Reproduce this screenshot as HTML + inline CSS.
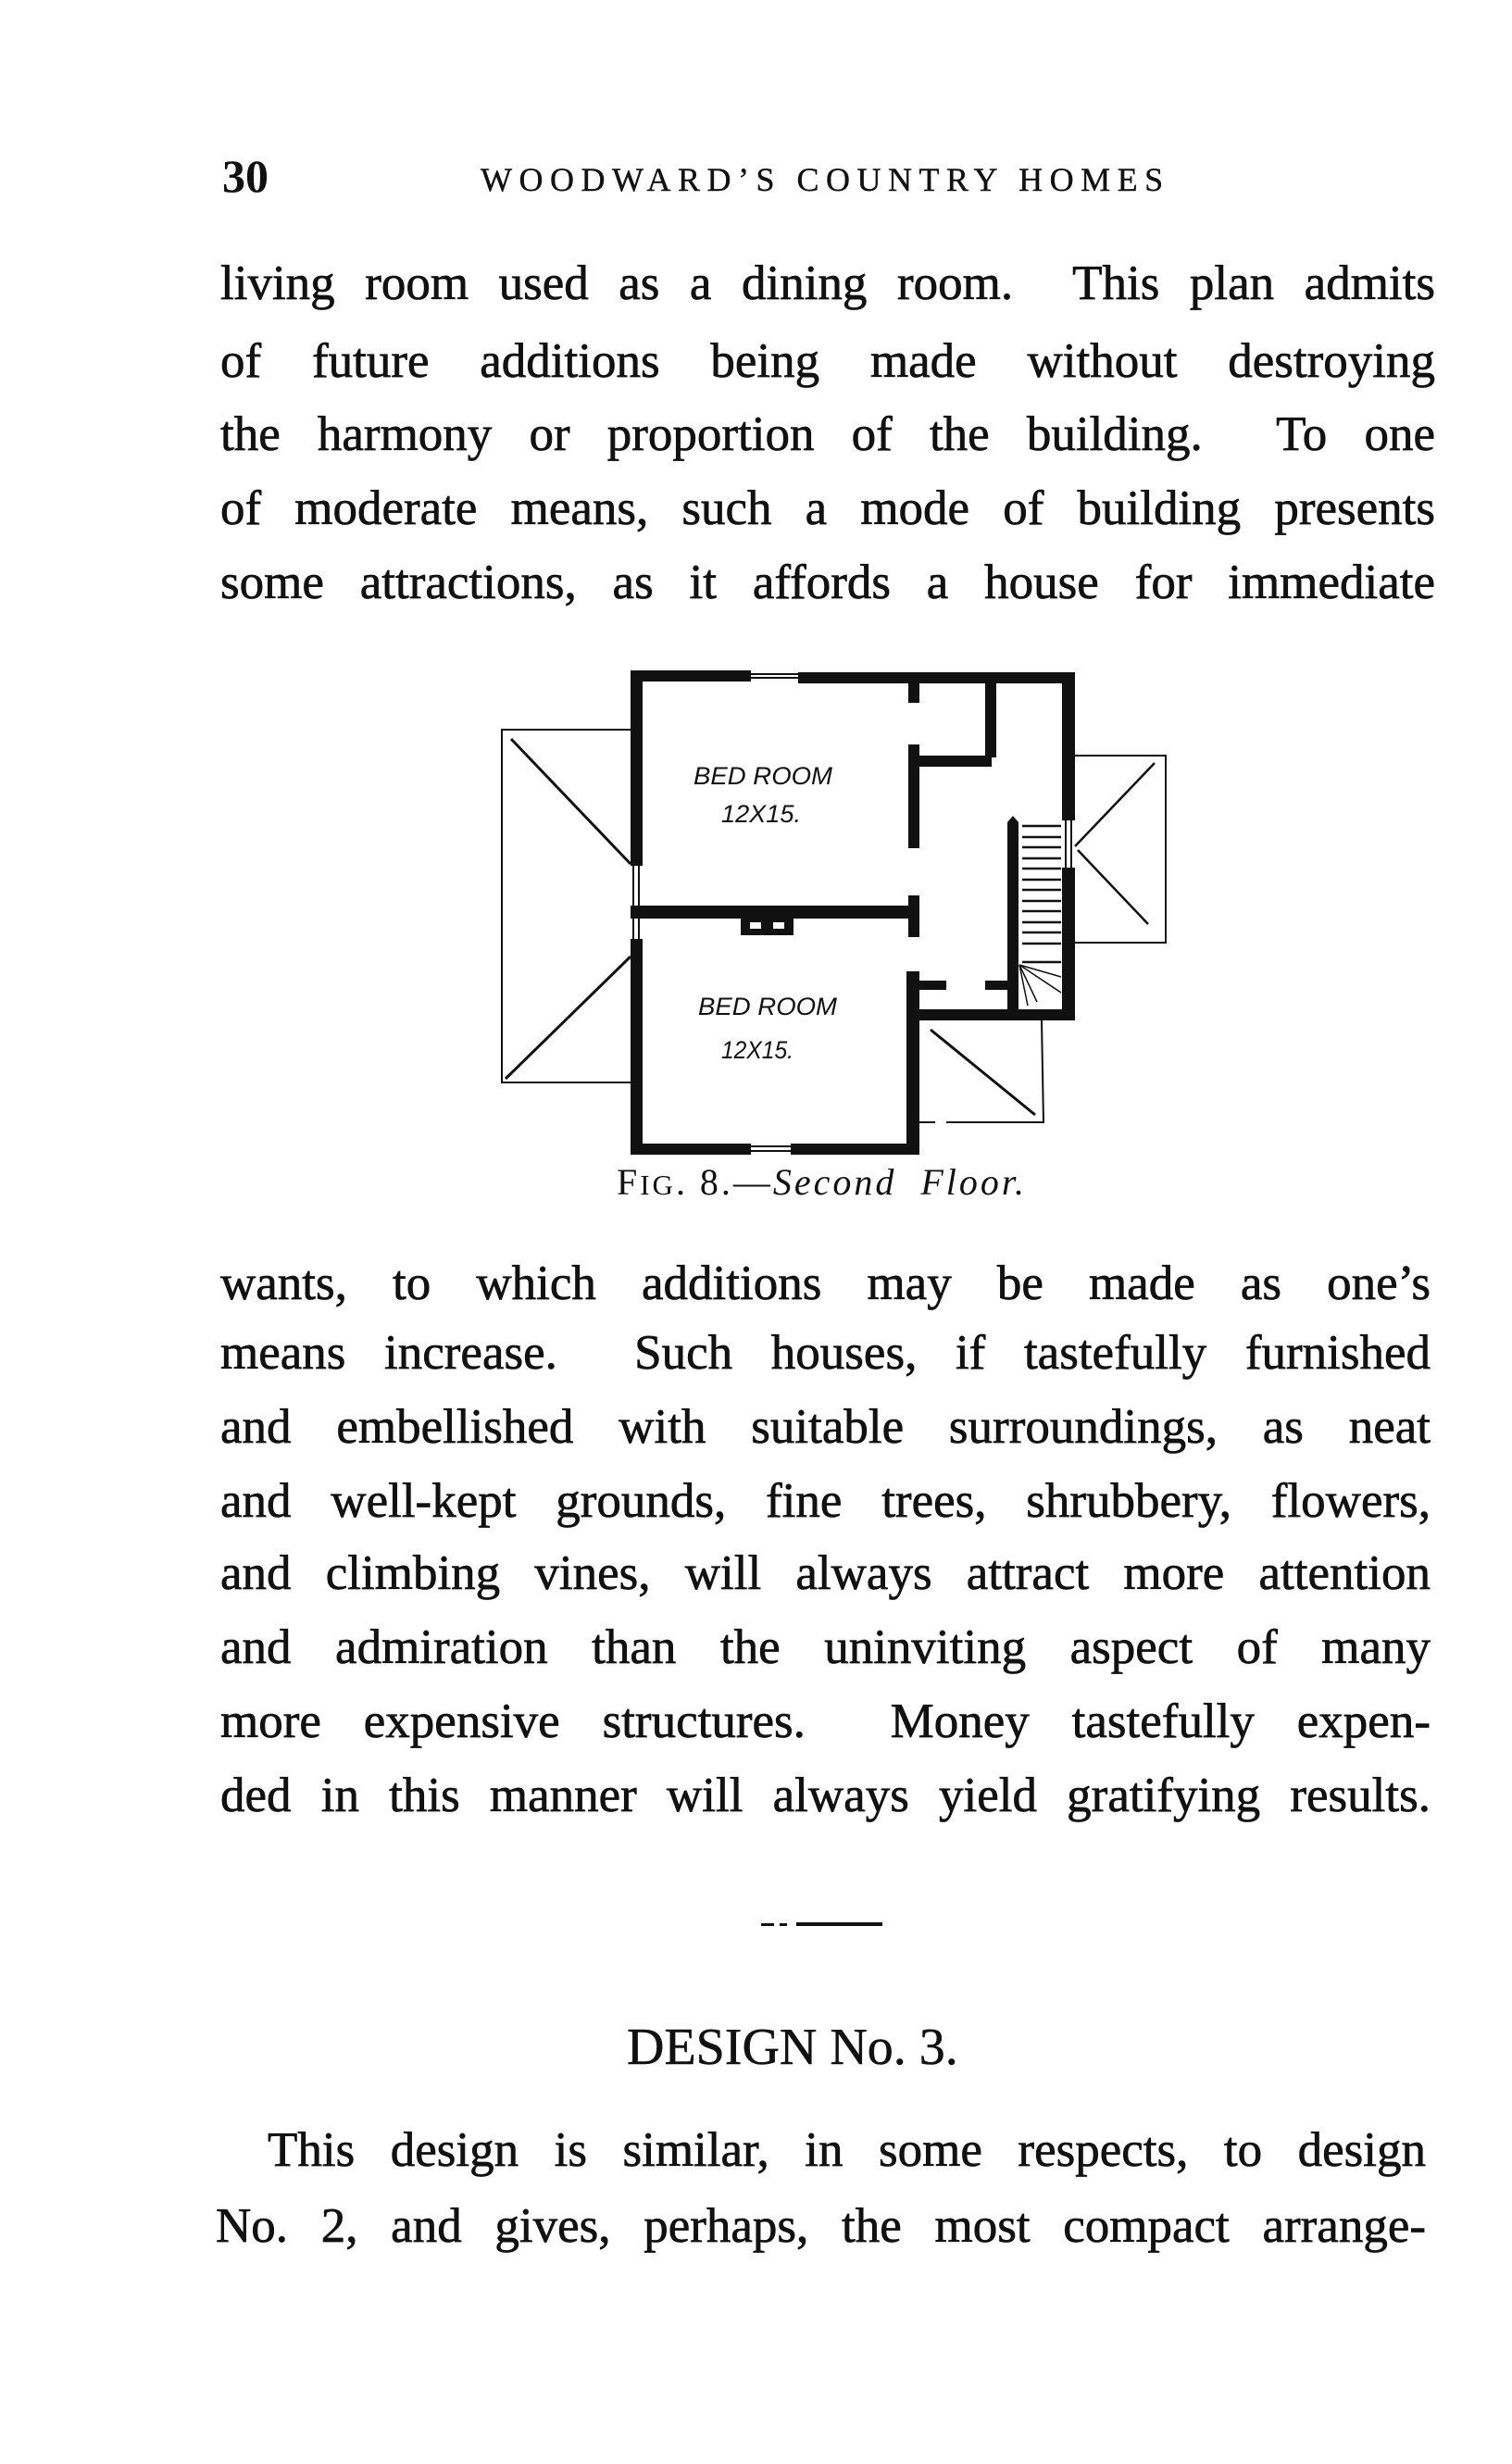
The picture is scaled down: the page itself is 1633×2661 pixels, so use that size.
<!DOCTYPE html>
<html><head><meta charset="utf-8"><style>
html,body{margin:0;padding:0;background:#fff;}
body{width:1633px;height:2661px;position:relative;overflow:hidden;font-family:"Liberation Serif",serif;color:#111;}
.l{position:absolute;left:238px;width:1312px;height:80px;line-height:80px;font-size:53px;text-align:justify;text-align-last:justify;white-space:nowrap;-webkit-text-stroke:0.7px #111;}
</style></head><body>
<div style="position:absolute;left:240px;top:162px;font-size:50px;font-weight:bold;line-height:56px;">30</div>
<div style="position:absolute;left:519px;top:172px;font-size:36px;line-height:44px;letter-spacing:7.5px;white-space:nowrap;-webkit-text-stroke:0.4px #111;">WOODWARD’S COUNTRY HOMES</div>

<div class="l" style="top:266px">living room used as a dining room.&nbsp; This plan admits</div>
<div class="l" style="top:350px">of future additions being made without destroying</div>
<div class="l" style="top:429px">the harmony or proportion of the building.&nbsp; To one</div>
<div class="l" style="top:509px">of moderate means, such a mode of building presents</div>
<div class="l" style="top:589px">some attractions, as it affords a house for immediate</div>

<svg style="position:absolute;left:0;top:0" width="1633" height="1320" viewBox="0 0 1633 1320">
<g fill="#111">
<rect x="681" y="724" width="130" height="12"/>
<rect x="862" y="726" width="299" height="12"/>
<rect x="1147" y="727" width="14" height="375"/>
<rect x="981" y="1090" width="180" height="12"/>
<rect x="681" y="1235" width="130" height="12"/>
<rect x="854" y="1235" width="139" height="12"/>
<rect x="681" y="724" width="13" height="211"/>
<rect x="681" y="1014" width="13" height="233"/>
<rect x="681" y="978" width="310" height="14"/>
<rect x="800" y="992" width="57" height="18"/>
<rect x="979" y="1049" width="14" height="198"/>
<rect x="981" y="731" width="12" height="28"/>
<rect x="981" y="804" width="12" height="112"/>
<rect x="981" y="816" width="90" height="12"/>
<rect x="1064" y="731" width="12" height="87"/>
<rect x="981" y="967" width="12" height="45"/>
<rect x="993" y="1059" width="29" height="10"/>
<rect x="1064" y="1059" width="27" height="10"/>
<rect x="1088" y="888" width="12" height="202"/>
<rect x="1147" y="886" width="14" height="51" fill="#fff"/>
</g>
<rect x="810" y="996" width="12" height="7" fill="#fff"/>
<rect x="835" y="996" width="12" height="7" fill="#fff"/>
<g stroke="#111" stroke-width="2" fill="none">
<line x1="811" y1="728" x2="862" y2="728"/><line x1="811" y1="732" x2="862" y2="732"/>
<line x1="811" y1="1238" x2="854" y2="1238"/><line x1="811" y1="1243" x2="854" y2="1243"/>
<line x1="684" y1="935" x2="684" y2="1014"/><line x1="690" y1="935" x2="690" y2="1014"/>
<line x1="1151" y1="886" x2="1151" y2="937"/><line x1="1157" y1="886" x2="1157" y2="937"/>
<polyline points="681,788 542,788 542,1169 681,1169"/>
<line x1="552" y1="798" x2="681" y2="933" stroke-width="3"/>
<line x1="681" y1="1033" x2="546" y2="1165" stroke-width="3"/>
<polyline points="1161,816 1259,816 1259,1018 1161,1018"/>
<line x1="1247" y1="824" x2="1161" y2="914" stroke-width="2.5"/>
<line x1="1164" y1="918" x2="1240" y2="998" stroke-width="2.5"/>
<polyline points="1125,1102 1127,1212 1022,1212"/>
<line x1="993" y1="1212" x2="1010" y2="1212"/>
<line x1="1005" y1="1112" x2="1118" y2="1204" stroke-width="3"/>
</g>
<g stroke="#111" stroke-width="2.5">
<line x1="1104" y1="892" x2="1146" y2="892"/><line x1="1104" y1="904" x2="1146" y2="904"/>
<line x1="1104" y1="915" x2="1146" y2="915"/><line x1="1104" y1="927" x2="1146" y2="927"/>
<line x1="1104" y1="938" x2="1146" y2="938"/><line x1="1104" y1="950" x2="1146" y2="950"/>
<line x1="1104" y1="961" x2="1146" y2="961"/><line x1="1104" y1="973" x2="1146" y2="973"/>
<line x1="1104" y1="984" x2="1146" y2="984"/><line x1="1104" y1="996" x2="1146" y2="996"/>
<line x1="1104" y1="1007" x2="1146" y2="1007"/><line x1="1104" y1="1019" x2="1146" y2="1019"/>
<line x1="1104" y1="1039" x2="1146" y2="1039"/>
<line x1="1101" y1="1042" x2="1146" y2="1055" stroke-width="1.5"/>
<line x1="1101" y1="1042" x2="1146" y2="1072" stroke-width="1.5"/>
<line x1="1101" y1="1042" x2="1120" y2="1082" stroke-width="1.5"/>
<line x1="1101" y1="1042" x2="1110" y2="1086" stroke-width="1.5"/>
</g>
<path d="M1088 888 L1094 881 L1100 888 Z" fill="#111"/>
<g font-family="Liberation Sans, sans-serif" font-style="italic" font-size="27" fill="#111">
<text x="749" y="847" textLength="150" lengthAdjust="spacingAndGlyphs">BED ROOM</text>
<text x="779" y="888" textLength="86" lengthAdjust="spacingAndGlyphs">12X15.</text>
<text x="754" y="1096" textLength="150" lengthAdjust="spacingAndGlyphs">BED ROOM</text>
<text x="779" y="1143" textLength="78" lengthAdjust="spacingAndGlyphs">12X15.</text>
</g>
<text x="666" y="1290" font-family="Liberation Serif, serif" font-size="40" fill="#111" textLength="440" lengthAdjust="spacing">F<tspan font-size="31">IG</tspan>. 8.—<tspan font-style="italic">Second&#160; Floor.</tspan></text>
</svg>

<div class="l" style="top:1346px;width:1307px">wants, to which additions may be made as one’s</div>
<div class="l" style="top:1421px;width:1307px">means increase.&nbsp; Such houses, if tastefully furnished</div>
<div class="l" style="top:1501px;width:1307px">and embellished with suitable surroundings, as neat</div>
<div class="l" style="top:1581px;width:1307px">and well-kept grounds, fine trees, shrubbery, flowers,</div>
<div class="l" style="top:1659px;width:1307px">and climbing vines, will always attract more attention</div>
<div class="l" style="top:1739px;width:1307px">and admiration than the uninviting aspect of many</div>
<div class="l" style="top:1819px;width:1307px">more expensive structures.&nbsp; Money tastefully expen-</div>
<div class="l" style="top:1899px;width:1307px">ded in this manner will always yield gratifying results.</div>

<div style="position:absolute;left:822px;top:2077px;width:14px;height:3px;background:#111"></div>
<div style="position:absolute;left:842px;top:2077px;width:8px;height:3px;background:#111"></div>
<div style="position:absolute;left:860px;top:2076px;width:93px;height:4px;background:#111"></div>

<div style="position:absolute;left:677px;top:2181px;font-size:56px;line-height:60px;white-space:nowrap;-webkit-text-stroke:0.5px #111;">DESIGN No. 3.</div>

<div class="l" style="top:2282px;left:289px;width:1251px">This design is similar, in some respects, to design</div>
<div class="l" style="top:2364px;left:233px;width:1307px">No. 2, and gives, perhaps, the most compact arrange-</div>
</body></html>
